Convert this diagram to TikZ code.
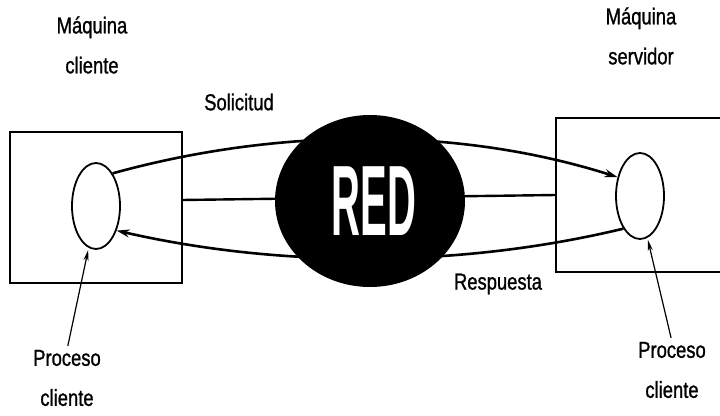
\documentclass[tikz,border=0pt]{standalone}
\usepackage{fontspec}
\setmainfont{Liberation Sans}
\newfontfamily\lblfont[FakeBold=1.2]{Liberation Sans}
\usetikzlibrary{shapes.geometric,arrows.meta}
\tikzset{
  machine/.style={draw=black, line width=2.2pt, rectangle, inner sep=0pt},
  proc/.style={draw=black, line width=1.8pt, ellipse, minimum width=48pt, minimum height=86pt, inner sep=0pt},
  net/.style={fill=black, ellipse, minimum width=190pt, minimum height=172pt, inner sep=0pt},
  lbl/.style={font=\lblfont\fontsize{23}{40}\selectfont, align=center, inner sep=0pt},
  flow/.style={line width=2.6pt, -{Stealth[length=13pt,width=8pt]}},
  link/.style={line width=2.4pt},
  pointer/.style={line width=1.2pt, -{Stealth[length=11pt,width=5pt]}}
}
\newcommand{\nw}[1]{\scalebox{0.8}[1]{#1}}
\begin{document}
\begin{tikzpicture}[x=1pt,y=-1pt]
\useasboundingbox (0,0) rectangle (720,415);
\clip (0,0) rectangle (720,415);
% machines
\node[machine, minimum width=172pt, minimum height=151pt] (lbox) at (96,207.5) {};
\node[machine, minimum width=190pt, minimum height=154pt] (rbox) at (651,195) {};
% processes
\node[proc] (lell) at (96,206) {};
\node[proc] (rell) at (640,196) {};
% middle link
\coordinate (ml) at (182,200);
\coordinate (mr) at (556,195);
\draw[link] (ml) -- (mr);
% request / response
\draw[flow] (lell.63) .. controls (280,127) and (460,127) .. (rell.140);
\draw[flow] (rell.243) .. controls (460,268) and (280,268) .. (lell.-50);
% network
\node[net] (red) at (370,201) {};
\node[inner sep=0pt, text=white, font=\fontsize{100}{100}\selectfont\bfseries] (redtxt) at (374,201) {\scalebox{0.4}[1]{RED}};
% labels
\node[lbl] (lmach) at (92,45) {\nw{Máquina}\\\nw{cliente}};
\node[lbl] (rmach) at (641,36) {\nw{Máquina}\\\nw{servidor}};
\node[lbl] (sol) at (239,102) {\nw{Solicitud}};
\node[lbl] (resp) at (498,284) {\nw{Respuesta}};
\node[lbl] (lproc) at (67,378) {\nw{Proceso}\\\nw{cliente}};
\node[lbl] (rproc) at (672,370) {\nw{Proceso}\\\nw{cliente}};
% pointers
\draw[pointer, shorten <=4pt, shorten >=2pt] (lproc.north) -- (lell.-100);
\draw[pointer, shorten <=4pt, shorten >=2pt] (rproc.north) -- (rell.-80);
\end{tikzpicture}
\end{document}
